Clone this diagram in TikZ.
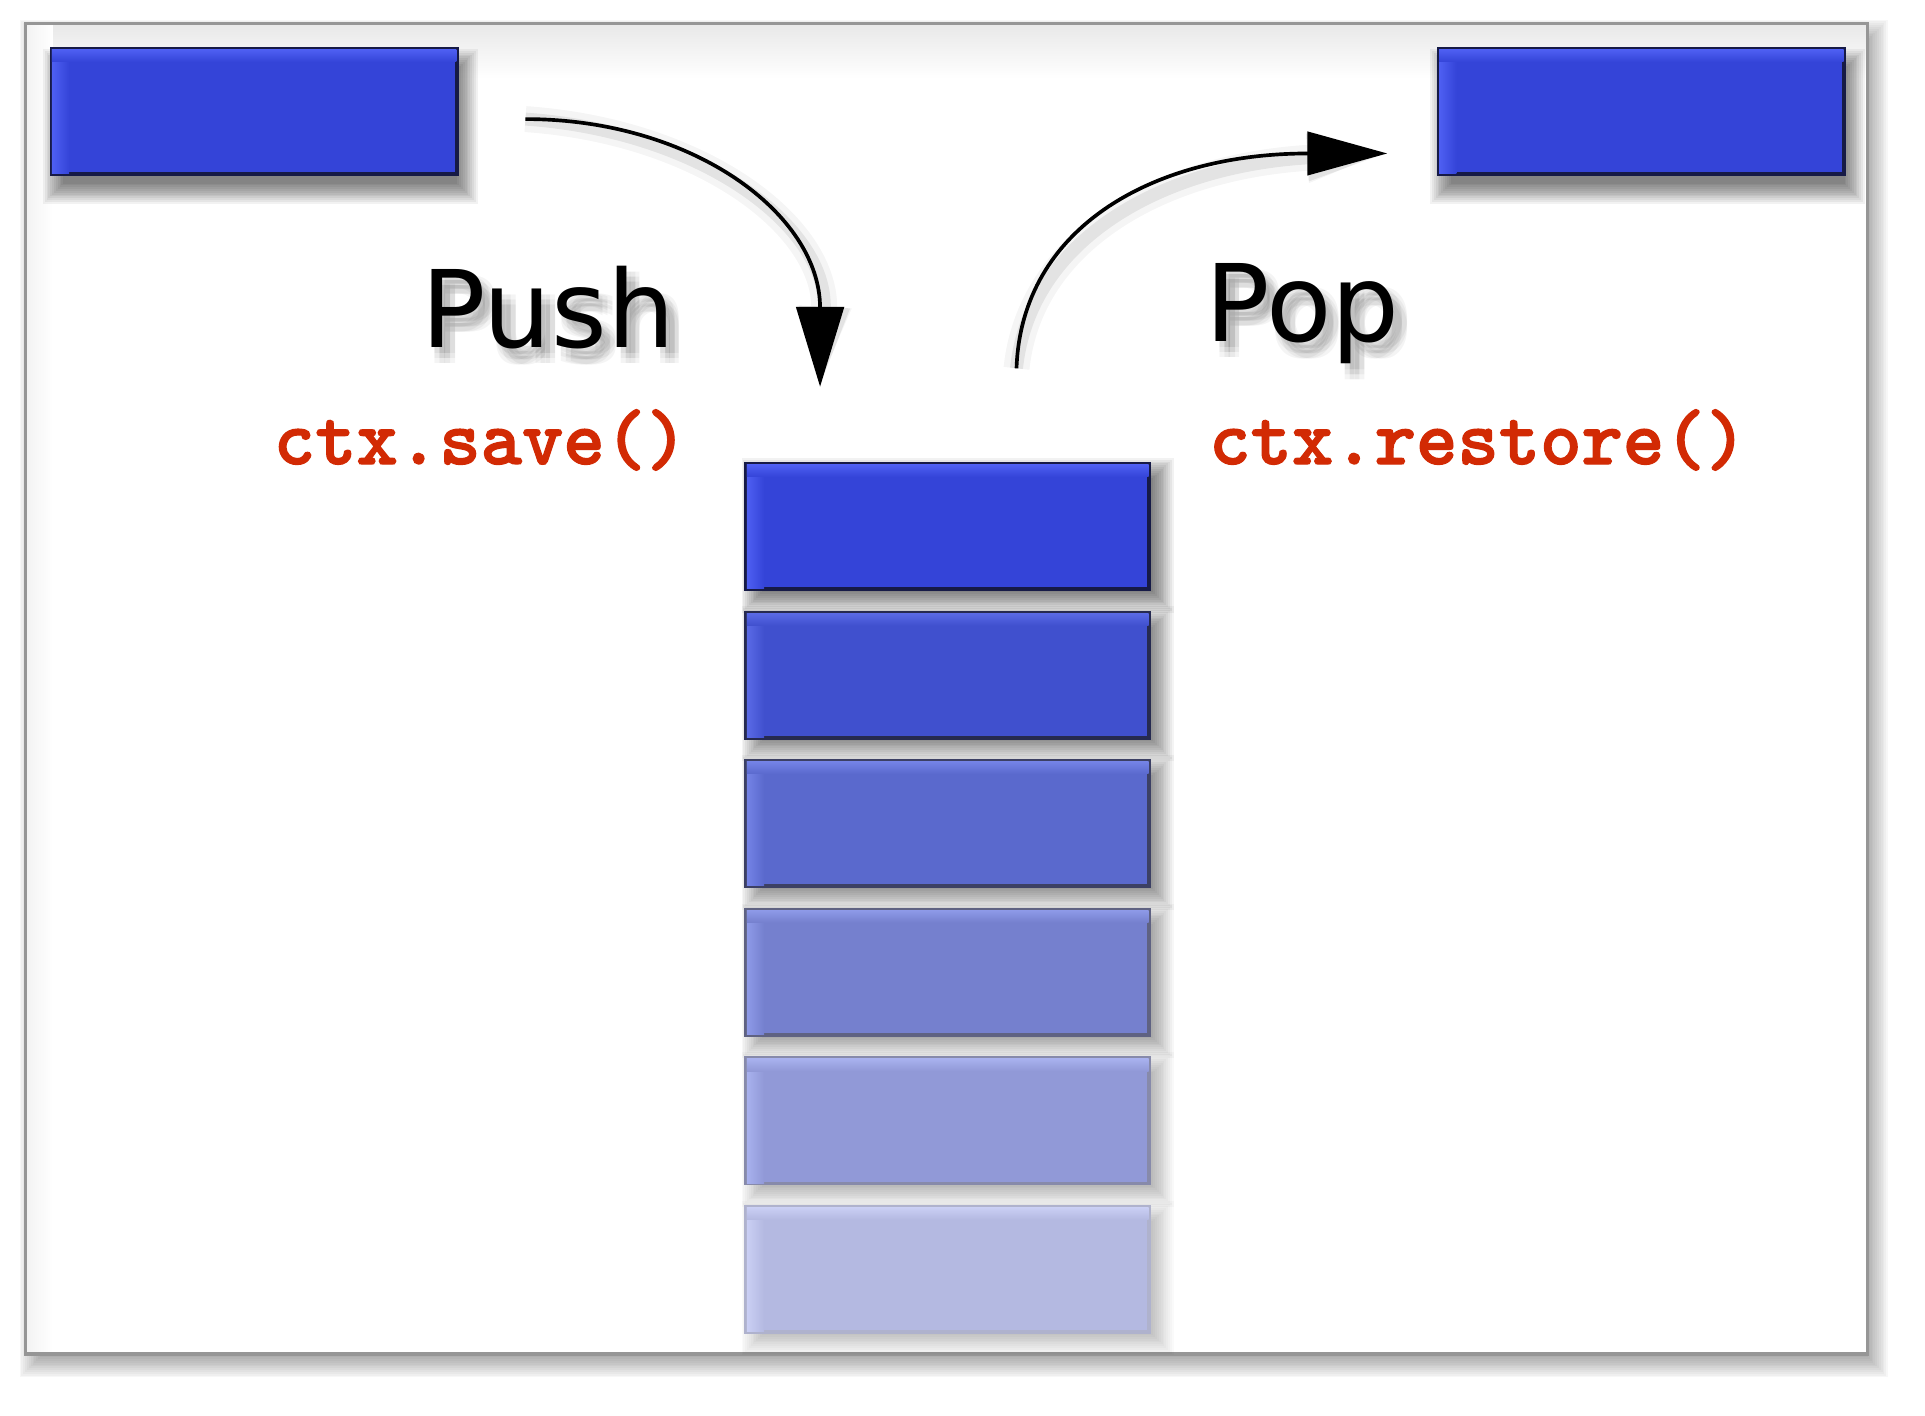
\documentclass[tikz,border=0pt]{standalone}
\usepackage{fontspec}
\newfontfamily\dvs{DejaVu Sans}
\newfontfamily\codefont{lmmonolt10-bold}[Extension=.otf, FakeBold=1.6]
\usetikzlibrary{arrows.meta}
\definecolor{frameC}{RGB}{150,150,150}
\definecolor{redC}{RGB}{210,42,4}
\definecolor{bA}{RGB}{52,68,216}   \definecolor{lA}{RGB}{78,95,242}  \definecolor{dA}{RGB}{22,26,70}
\definecolor{bB}{RGB}{64,80,206}   \definecolor{lB}{RGB}{90,106,230} \definecolor{dB}{RGB}{38,42,80}
\definecolor{bC}{RGB}{90,105,205}  \definecolor{lC}{RGB}{116,131,230} \definecolor{dC}{RGB}{60,64,100}
\definecolor{bD}{RGB}{117,128,206} \definecolor{lD}{RGB}{142,154,232} \definecolor{dD}{RGB}{95,98,130}
\definecolor{bE}{RGB}{145,153,215} \definecolor{lE}{RGB}{168,177,238} \definecolor{dE}{RGB}{135,138,170}
\definecolor{bF}{RGB}{180,185,225} \definecolor{lF}{RGB}{202,207,244} \definecolor{dF}{RGB}{175,178,205}
% soft shadow: box corners, offset, opacity per layer
\newcommand{\softshadow}[7]{%
  \foreach \k in {1,...,12}{%
    \fill[black,opacity=#7] ({#1+#5-1.5*\k+6},{#2+#6-1.5*\k+6}) rectangle ({#3+#5+1.5*\k-6},{#4+#6+1.5*\k-6});
  }}
\newcommand{\hilite}[3]{%
  \shade[left color=#2, right color=#3] ([shift={(0.02cm,-0.02cm)}]#1.north west) rectangle ([shift={(0.16cm,0.02cm)}]#1.south west);
  \shade[top color=#2, bottom color=#3] ([shift={(0.02cm,-0.02cm)}]#1.north west) rectangle ([shift={(-0.02cm,-0.12cm)}]#1.north east);
}
\tikzset{
  blk/.style={rectangle, inner sep=0pt, minimum width=3.28cm, minimum height=1.02cm, line width=0.9pt},
  topblk/.style={blk, minimum width=3.3cm, fill=bA, draw=dA},
  bigtxt/.style={font=\dvs\fontsize{24.8}{28}\selectfont, anchor=base, inner sep=0pt},
  codetxt/.style={font=\codefont\fontsize{18.25}{21}\selectfont, text=redC, anchor=base, inner sep=0pt},
  arr/.style={line width=0.85pt, -{Triangle[length=18.5pt,width=11pt]}},
}
\begin{document}
\begin{tikzpicture}[x=0.01cm,y=-0.01cm]
\useasboundingbox (0,0) rectangle (1568,1153.4);
% frame with shadow
\softshadow{22}{20}{1520}{1102}{6}{8}{0.03}
\node[fill=white, minimum width=14.98cm, minimum height=10.82cm, inner sep=0pt] (frame) at (771,561) {};
\shade[top color=black!9, bottom color=white] (frame.north west) rectangle ([yshift=-0.45cm]frame.north east);
\shade[left color=black!5, right color=white] (frame.north west) rectangle ([xshift=0.22cm]frame.south west);
\draw[frameC, line width=0.8pt] (frame.north west) rectangle (frame.south east);
% shadows of boxes
\softshadow{42}{40}{372}{142}{5}{12}{0.05}
\softshadow{1172}{40}{1502}{142}{5}{12}{0.05}
\softshadow{608}{378}{936}{480}{8}{7}{0.05}
\softshadow{608}{499}{936}{601}{8}{7}{0.045}
\softshadow{608}{620}{936}{722}{8}{7}{0.04}
\softshadow{608}{741}{936}{843}{8}{7}{0.032}
\softshadow{608}{862}{936}{964}{8}{7}{0.025}
\softshadow{608}{983}{936}{1085}{8}{7}{0.018}
% boxes
\node[topblk] (L) at (207,91) {};
\node[topblk] (R) at (1337,91) {};
\node[blk, fill=bA, draw=dA] (s1) at (772,429) {};
\node[blk, fill=bB, draw=dB] (s2) at (772,550) {};
\node[blk, fill=bC, draw=dC] (s3) at (772,671) {};
\node[blk, fill=bD, draw=dD] (s4) at (772,792) {};
\node[blk, fill=bE, draw=dE] (s5) at (772,913) {};
\node[blk, fill=bF, draw=dF] (s6) at (772,1034) {};
\hilite{L}{lA}{bA}
\hilite{R}{lA}{bA}
\hilite{s1}{lA}{bA}
\hilite{s2}{lB}{bB}
\hilite{s3}{lC}{bC}
\hilite{s4}{lD}{bD}
\hilite{s5}{lE}{bE}
\hilite{s6}{lF}{bF}
% arrows
\coordinate (pushS) at (428,97);
\coordinate (pushE) at (668,315);
\coordinate (popS) at (828,300);
\coordinate (popE) at (1130,125);
\foreach \w/\o in {6pt/0.04, 3pt/0.07}{
  \draw[line width=\w, black, opacity=\o, -{Triangle[length=18.5pt,width=11pt]}, xshift=0.07cm, yshift=-0.1cm] (pushS) .. controls (565,97) and (668,175) .. (pushE);
  \draw[line width=\w, black, opacity=\o, -{Triangle[length=18.5pt,width=10pt]}, xshift=0.07cm, yshift=-0.1cm] (popS) .. controls (832,185) and (940,125) .. (popE);
}
\draw[arr] (pushS) .. controls (565,97) and (668,175) .. (pushE);
\draw[arr, -{Triangle[length=18.5pt,width=10pt]}] (popS) .. controls (832,185) and (940,125) .. (popE);
% text shadows
\foreach \dx/\dy [count=\i] in {3/5,7/5,11/5,3/9,7/9,11/9,3/13,7/13,11/13}{
  \node[bigtxt, text=black, opacity=0.045] (pushsh\i) at (446.5+\dx,283+\dy) {Push};
  \node[bigtxt, text=black, opacity=0.045] (popsh\i) at (1061+\dx,278+\dy) {Pop};
}
% labels
\node[bigtxt] (push) at (446.5,283) {Push};
\node[bigtxt] (pop) at (1061,278) {Pop};
\node[codetxt] (save) at (391.5,378) {ctx.save()};
\node[codetxt] (restore) at (1204,378) {ctx.restore()};
\end{tikzpicture}
\end{document}
